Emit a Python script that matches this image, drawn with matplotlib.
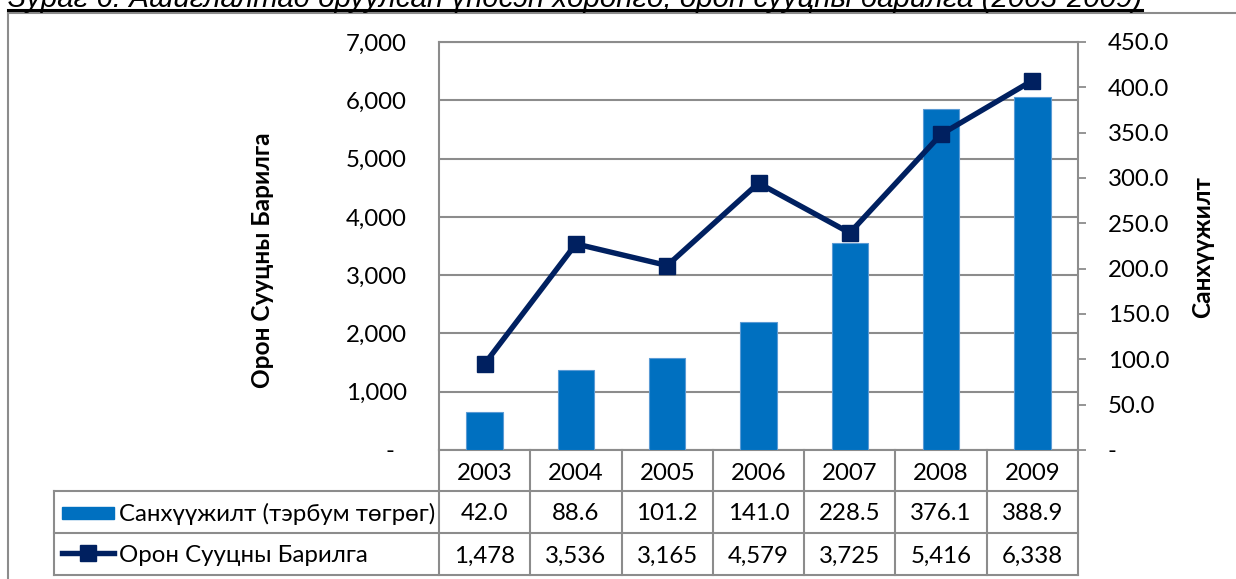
import matplotlib
matplotlib.use('Agg')
import numpy as np
import matplotlib.pyplot as plt
from matplotlib.lines import Line2D
from matplotlib.patches import Rectangle
from matplotlib.transforms import blended_transform_factory

# ---------------- data ----------------
years = ['2003', '2004', '2005', '2006', '2007', '2008', '2009']
funding = [42.0, 88.6, 101.2, 141.0, 228.5, 376.1, 388.9]
housing = [1478, 3536, 3165, 4579, 3725, 5416, 6338]
funding_label = 'Санхүүжилт (тэрбум төгрөг)'
housing_label = 'Орон Сууцны Барилга'
left_axis_label = 'Орон Сууцны Барилга'
right_axis_label = 'Санхүүжилт'
title = 'Зураг 6: Ашиглалтад оруулсан үндсэн хөрөнгө, орон сууцны барилга (2003-2009)'
left_ticks = [0, 1000, 2000, 3000, 4000, 5000, 6000, 7000]
right_ticks = [0, 50, 100, 150, 200, 250, 300, 350, 400, 450]

# ---------------- style ----------------
plt.rcParams['font.family'] = ['Lato', 'Open Sans', 'DejaVu Sans']
BAR_C = '#0070C0'
LINE_C = '#002060'
GRID_C = '#8C8C8C'
FS = 17.3
FS_LAB = 17.6

W, H = 1236, 579
fig = plt.figure(figsize=(W / 100, H / 100), dpi=100)


def fx(px):
    return px / W


def fy(py):
    return 1 - py / H


L, R, T, B = 439, 1078, 42, 450
rect = [fx(L), fy(B), fx(R) - fx(L), fy(T) - fy(B)]
ax_grid = fig.add_axes(rect)
ax_bar = ax_grid.twinx()
ax_line = ax_grid.twinx()

x = np.arange(len(years))
for a in (ax_grid, ax_bar, ax_line):
    a.set_xlim(-0.5, len(years) - 0.5)
    a.set_xticks([])

# grid / left axis
ax_grid.set_ylim(0, 7000)
ax_grid.set_yticks(left_ticks)
ax_grid.set_yticklabels([f'{v:,.0f}' if v else '-  ' for v in left_ticks])
ax_grid.tick_params(axis='y', length=0, pad=23, labelsize=FS, labelcolor='black')
ax_grid.yaxis.grid(True, color=GRID_C, lw=1.5)
ax_grid.set_axisbelow(True)
for s in ('left', 'right', 'top', 'bottom'):
    ax_grid.spines[s].set_color(GRID_C)
    ax_grid.spines[s].set_linewidth(1.5)

# bars (right axis)
ax_bar.set_ylim(0, 450)
ax_bar.set_yticks(right_ticks)
ax_bar.set_yticklabels([f'{v:.1f}' if v else '-' for v in right_ticks])
ax_bar.tick_params(axis='y', direction='out', length=5.8, width=1.3, color=GRID_C,
                   pad=15.5, labelsize=FS, labelcolor='black')
ax_bar.bar(x, funding, width=0.4, color=BAR_C, edgecolor='#5B9BD5', lw=0.8)
for s in ax_bar.spines.values():
    s.set_visible(False)

# line (left scale)
ax_line.set_ylim(0, 7000)
ax_line.set_yticks([])
ax_line.plot(x, housing, color=LINE_C, lw=3.9, marker='s', ms=11, clip_on=False)
for s in ax_line.spines.values():
    s.set_visible(False)

# axis titles
fig.text(fx(263), fy(260), left_axis_label, rotation=90, ha='center', va='center',
         fontsize=FS_LAB, fontweight='bold')
fig.text(fx(1203), fy(247), right_axis_label, rotation=90, ha='center', va='center',
         fontsize=FS_LAB, fontweight='bold')

# ---------------- data table ----------------
trans = blended_transform_factory(ax_grid.transData, fig.transFigure)
TL = 54
for i in range(len(years) + 1):
    fig.add_artist(Line2D([i - 0.5, i - 0.5], [fy(450), fy(575)], transform=trans,
                          color=GRID_C, lw=1.5))
for yy in (491, 533, 575):
    fig.add_artist(Line2D([fx(TL), fx(R)], [fy(yy), fy(yy)], transform=fig.transFigure,
                          color=GRID_C, lw=1.5))
fig.add_artist(Line2D([fx(TL), fx(TL)], [fy(491), fy(575)], transform=fig.transFigure,
                      color=GRID_C, lw=1.5))

for i, (yr, f, h) in enumerate(zip(years, funding, housing)):
    fig.text(i, fy(471), yr, transform=trans, ha='center', va='center_baseline', fontsize=FS)
    fig.text(i, fy(512), f'{f:.1f}', transform=trans, ha='center', va='center_baseline', fontsize=FS)
    fig.text(i, fy(554), f'{h:,.0f}', transform=trans, ha='center', va='center_baseline', fontsize=FS)

# legend keys
fig.add_artist(Rectangle((fx(62), fy(519)), fx(114) - fx(62), fy(507) - fy(519),
                         transform=fig.transFigure, color=BAR_C))
fig.add_artist(Line2D([fx(62), fx(114)], [fy(553), fy(553)], transform=fig.transFigure,
                      color=LINE_C, lw=3.9))
fig.add_artist(Line2D([fx(88)], [fy(553)], transform=fig.transFigure, color=LINE_C,
                      marker='s', ms=11, lw=0))
fig.text(fx(119), fy(512), funding_label, ha='left', va='center_baseline', fontsize=FS)
fig.text(fx(119), fy(554), housing_label, ha='left', va='center_baseline', fontsize=FS)

# chart frame
fig.add_artist(Line2D([fx(8), fx(8)], [fy(13), 0], transform=fig.transFigure, color='#8C8C8C', lw=1.5))
fig.add_artist(Line2D([fx(8), 1], [fy(13), fy(13)], transform=fig.transFigure, color='#8C8C8C', lw=1.5))

# title (cut off at top in the reference, underlined)
t = fig.text(fx(8), fy(7), title, family=['Liberation Sans', 'DejaVu Sans'], style='italic',
             fontsize=20, va='baseline', ha='left')
fig.canvas.draw()
bb = t.get_window_extent()
t.set_fontsize(20 * 1135 / bb.width)
fig.canvas.draw()
bb = t.get_window_extent()
fig.add_artist(Line2D([bb.x0 / W, bb.x1 / W], [fy(10), fy(10)], transform=fig.transFigure,
                      color='black', lw=2.2))

fig.savefig('out.png', dpi=100)
